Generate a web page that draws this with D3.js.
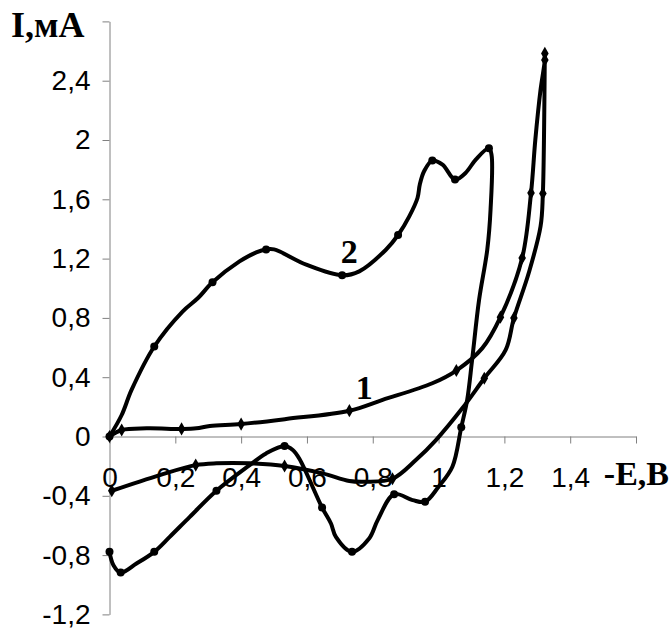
<!DOCTYPE html>
<html>
<head>
<meta charset="utf-8">
<script src="https://cdn.jsdelivr.net/npm/d3@7"></script>
<style>
  html, body { margin: 0; padding: 0; background: #fff; }
  svg { display: block; }
  .tick text { font-family: "Liberation Sans", Arial, sans-serif; font-size: 28px; fill: #000; }
  .axis path, .axis line { stroke: #808080; stroke-width: 1; }
  .title { font-family: "Liberation Serif", "Times New Roman", serif; font-weight: bold; fill: #000; }
</style>
</head>
<body>
<svg id="chart" width="672" height="630"></svg>
<script>
// Cyclic voltammograms: potential -E (V) vs current I (mA).
// Each point: [E, I, hasMarker]
const curve1 = [
  [0, 0, 1], [0.037, 0.044, 1], [0.113, 0.055, 0], [0.219, 0.051, 1],
  [0.264, 0.055, 0], [0.305, 0.071, 0], [0.40, 0.084, 1], [0.537, 0.118, 0],
  [0.729, 0.174, 1], [0.83, 0.247, 0], [0.981, 0.359, 0], [1.054, 0.445, 1],
  [1.133, 0.596, 0], [1.188, 0.805, 1], [1.254, 1.204, 1], [1.281, 1.643, 1],
  [1.294, 2.0, 0], [1.31, 2.34, 0], [1.323, 2.54, 1], [1.323, 2.584, 1],
  [1.317, 1.639, 1], [1.31, 1.418, 0], [1.274, 1.103, 0], [1.229, 0.799, 1],
  [1.204, 0.584, 0], [1.139, 0.393, 1], [1.072, 0.19, 0], [0.992, -0.024, 0],
  [0.931, -0.159, 0], [0.86, -0.285, 1], [0.779, -0.305, 0], [0.729, -0.30, 0],
  [0.648, -0.249, 0], [0.532, -0.199, 1], [0.426, -0.181, 0], [0.325, -0.181, 0],
  [0.262, -0.193, 1], [0.153, -0.26, 0], [0.007, -0.366, 1]
];
const curve2 = [
  [0, 0, 1], [0.037, 0.145, 0], [0.067, 0.314, 0], [0.136, 0.607, 1],
  [0.222, 0.843, 0], [0.269, 0.934, 0], [0.313, 1.04, 1], [0.395, 1.181, 0],
  [0.446, 1.242, 0], [0.476, 1.262, 1], [0.50, 1.262, 0], [0.598, 1.159, 0],
  [0.707, 1.087, 1], [0.759, 1.114, 0], [0.84, 1.26, 0], [0.877, 1.359, 1],
  [0.911, 1.485, 0], [0.936, 1.609, 0], [0.943, 1.70, 0], [0.956, 1.789, 0],
  [0.981, 1.861, 1], [1.012, 1.834, 0], [1.05, 1.733, 1], [1.082, 1.778, 0],
  [1.113, 1.868, 0], [1.153, 1.945, 1], [1.161, 1.90, 0], [1.158, 1.53, 0],
  [1.148, 1.26, 0], [1.123, 0.92, 0], [1.102, 0.517, 0], [1.087, 0.247, 0],
  [1.069, 0.062, 1], [1.042, -0.204, 0], [1.0, -0.339, 0], [0.959, -0.44, 1],
  [0.921, -0.429, 0], [0.865, -0.389, 1], [0.815, -0.564, 0], [0.789, -0.688, 0],
  [0.737, -0.778, 1], [0.688, -0.677, 0], [0.673, -0.587, 0], [0.646, -0.479, 1],
  [0.577, -0.15, 0], [0.557, -0.091, 0], [0.532, -0.064, 1], [0.476, -0.114, 0],
  [0.426, -0.193, 0], [0.325, -0.366, 1], [0.244, -0.542, 0], [0.183, -0.677, 0],
  [0.136, -0.778, 1], [0.082, -0.857, 0], [0.034, -0.918, 1], [0.012, -0.868, 0],
  [0, -0.778, 1]
];
const xTicks = [0, 0.2, 0.4, 0.6, 0.8, 1.0, 1.2, 1.4, 1.6];
const xTickLabels = ["0", "0,2", "0,4", "0,6", "0,8", "1", "1,2", "1,4", ""];
const yTicks = [-1.2, -0.8, -0.4, 0, 0.4, 0.8, 1.2, 1.6, 2.0, 2.4, 2.8];
const yTickLabels = ["-1,2", "-0,8", "-0,4", "0", "0,4", "0,8", "1,2", "1,6", "2", "2,4", ""];
const curveLabels = [
  { text: "1", E: 0.748, I: 0.255 },
  { text: "2", E: 0.703, I: 1.17 }
];

const svg = d3.select("#chart");
const x = d3.scaleLinear().domain([0, 1.6]).range([109.5, 636]);
const y = d3.scaleLinear().domain([-1.2, 2.8]).range([614.4, 21.4]);

// y axis
svg.append("g")
  .attr("class", "axis")
  .attr("transform", `translate(${x(0)},0)`)
  .call(d3.axisLeft(y).tickValues(yTicks)
    .tickFormat((d, i) => yTickLabels[i])
    .tickSize(7).tickSizeOuter(0).tickPadding(12));

// x axis, labels sit well below the zero line
svg.append("g")
  .attr("class", "axis")
  .attr("transform", `translate(0,${y(0)})`)
  .call(d3.axisBottom(x).tickValues(xTicks)
    .tickFormat((d, i) => xTickLabels[i])
    .tickSize(7).tickSizeOuter(0).tickPadding(24));

const line = d3.line()
  .x(d => x(d[0])).y(d => y(d[1]))
  .curve(d3.curveCatmullRom.alpha(0.5));

[curve1, curve2].forEach((c, ci) => {
  svg.append("path")
    .datum(c)
    .attr("fill", "none")
    .attr("stroke", "#000")
    .attr("stroke-width", 4)
    .attr("stroke-linejoin", "round")
    .attr("d", line);
  const pts = c.filter(d => d[2]);
  if (ci === 0) {
    svg.append("g").selectAll("path")
      .data(pts).join("path")
      .attr("transform", d => `translate(${x(d[0])},${y(d[1])})`)
      .attr("d", d3.symbol(d3.symbolDiamond, 50))
      .attr("fill", "#000");
  } else {
    svg.append("g").selectAll("circle")
      .data(pts).join("circle")
      .attr("cx", d => x(d[0])).attr("cy", d => y(d[1]))
      .attr("r", 4)
      .attr("fill", "#000");
  }
});

svg.selectAll("text.clabel")
  .data(curveLabels).join("text")
  .attr("class", "title clabel")
  .attr("x", d => x(d.E)).attr("y", d => y(d.I))
  .attr("font-size", 34)
  .text(d => d.text);

svg.append("text").attr("class", "title")
  .attr("x", 11).attr("y", 37).attr("font-size", 36)
  .text("I,мА");

svg.append("text").attr("class", "title")
  .attr("x", 669).attr("y", 485).attr("text-anchor", "end")
  .attr("font-size", 34)
  .text("-E,B");
</script>
</body>
</html>
